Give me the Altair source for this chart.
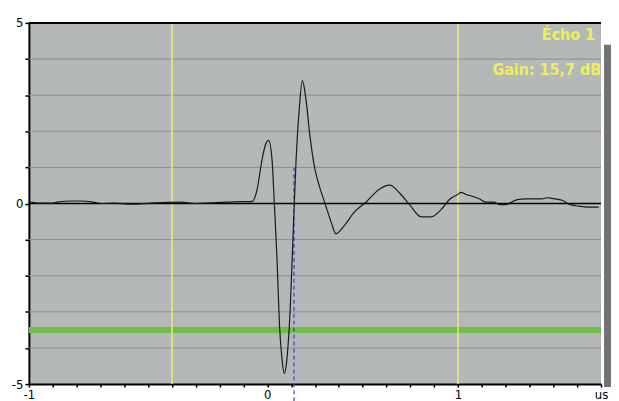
import altair as alt
import pandas as pd

# signal (time in us, amplitude)
t = [-1.242, -1.200, -1.132, -1.101, -1.028, -0.975, -0.913, -0.871, -0.803, -0.715,
     -0.610, -0.532, -0.454, -0.376, -0.297, -0.219, -0.141, -0.078, -0.054, -0.028,
     -0.010, 0.007, 0.025, 0.037, 0.051, 0.064, 0.077, 0.089, 0.103, 0.120,
     0.137, 0.151, 0.167, 0.184, 0.203, 0.224, 0.247, 0.268, 0.303, 0.337,
     0.360, 0.407, 0.459, 0.520, 0.572, 0.589, 0.642, 0.694, 0.746, 0.807,
     0.859, 0.911, 0.955, 0.998, 1.016, 1.042, 1.076, 1.111, 1.146, 1.189,
     1.215, 1.250, 1.285, 1.311, 1.355, 1.441, 1.467, 1.494, 1.546, 1.589,
     1.633, 1.676, 1.737]
amp = [0.04, 0.01, 0.01, 0.04, 0.07, 0.07, 0.04, 0.00, 0.01, -0.02,
       0.01, 0.03, 0.04, 0.00, 0.02, 0.04, 0.05, 0.06, 0.38, 1.20,
       1.62, 1.75, 1.20, 0.00, -1.54, -3.38, -4.30, -4.71, -4.30, -2.92,
       -0.63, 1.21, 2.58, 3.40, 2.87, 1.85, 1.03, 0.57, 0.00, -0.55,
       -0.84, -0.59, -0.22, 0.05, 0.33, 0.40, 0.51, 0.29, -0.03, -0.37,
       -0.37, -0.17, 0.11, 0.25, 0.31, 0.25, 0.20, 0.13, 0.04, 0.04,
       -0.03, -0.03, 0.05, 0.11, 0.13, 0.13, 0.16, 0.14, 0.09, -0.03,
       -0.07, -0.10, -0.10]

x_ticks = [-1.25, -1.125, -1.0, -0.875, -0.75, -0.625, -0.5, -0.375, -0.25, -0.125,
           0.0, 0.125, 0.25, 0.375, 0.5, 0.625, 0.75, 0.875, 1.0, 1.125,
           1.25, 1.375, 1.5, 1.625, 1.75]
y_ticks = [-5, -4, -3, -2, -1, 0, 1, 2, 3, 4, 5]
grid_y = [-4, -3, -2, -1, 1, 2, 3, 4]
cursor_x = [-0.5, 1.0]
gate_level = [-3.5]
marker_x = [0.14]
marker_top = [1.0]
marker_bottom = [-5.5]
echo_label = "Écho 1"
gain_label = "Gain: 15,7 dB"

sig = pd.DataFrame({"t": t, "a": amp})

xs = alt.Scale(domain=[-1.25, 1.75], nice=False, zero=False)
ys = alt.Scale(domain=[-5, 5], nice=False, zero=False)

W, H = 575, 363
FONT = "DejaVu Sans Condensed"

xaxis = alt.Axis(values=x_ticks, title=None, grid=False,
                 labelExpr="datum.value == -1.25 ? '-1' : datum.value == 0 ? '0' : datum.value == 1 ? '1' : datum.value == 1.75 ? 'us' : ''",
                 domainColor="black", domainWidth=2, tickColor="black", tickSize=3, tickWidth=1.5,
                 labelFont=FONT, labelFontSize=13, labelColor="black", labelPadding=1,
                 labelOverlap=False, labelFlush=False)
yaxis = alt.Axis(values=y_ticks, title=None, grid=False,
                 labelExpr="datum.value == 5 ? '5' : datum.value == 0 ? '0' : datum.value == -5 ? '-5' : ''",
                 domainColor="black", domainWidth=2, tickColor="black", tickSize=4, tickWidth=1.5,
                 labelFont=FONT, labelFontSize=13, labelColor="black", labelPadding=2,
                 labelOverlap=False, labelFlush=False)

one = pd.DataFrame({"k": [0]})

gridl = alt.Chart(pd.DataFrame({"y": grid_y})).mark_rule(color="#8b8d8e", strokeWidth=1).encode(
    y=alt.Y("y:Q", scale=ys, axis=yaxis))

shadow = alt.Chart(one).mark_rect(color="#727272", clip=False).encode(
    x=alt.value(W + 3), x2=alt.value(W + 10), y=alt.value(22), y2=alt.value(H + 3))

base_line = alt.Chart(sig).mark_line(color="#1a1a1a", strokeWidth=1.2, interpolate="monotone").encode(
    x=alt.X("t:Q", scale=xs, axis=xaxis),
    y=alt.Y("a:Q", scale=ys, axis=yaxis),
)

green = alt.Chart(pd.DataFrame({"y": gate_level})).mark_rule(color="#6fbf46", strokeWidth=6).encode(
    y=alt.Y("y:Q", scale=ys, axis=yaxis))

yellow = alt.Chart(pd.DataFrame({"x": cursor_x})).mark_rule(color="#ecec6e", strokeWidth=1.5).encode(
    x=alt.X("x:Q", scale=xs, axis=xaxis))

zero = alt.Chart(pd.DataFrame({"y": [0]})).mark_rule(color="black", strokeWidth=1.3).encode(
    y=alt.Y("y:Q", scale=ys, axis=yaxis))

top = alt.Chart(pd.DataFrame({"y": [5]})).mark_rule(color="black", strokeWidth=2).encode(
    y=alt.Y("y:Q", scale=ys, axis=yaxis))

marker = alt.Chart(pd.DataFrame({"x": marker_x, "y": marker_top, "y2": marker_bottom})).mark_rule(
    color="#3a3ad6", strokeWidth=1.2, strokeDash=[4, 3], clip=False).encode(
    x=alt.X("x:Q", scale=xs, axis=xaxis), y=alt.Y("y:Q", scale=ys, axis=yaxis), y2="y2:Q")

echo = alt.Chart(pd.DataFrame({"s": [echo_label]})).mark_text(
    font=FONT, fontSize=16, fontWeight="bold", color="#eeee5c", align="right", baseline="alphabetic").encode(
    text="s:N", x=alt.value(W - 6), y=alt.value(17))
gain = alt.Chart(pd.DataFrame({"s": [gain_label]})).mark_text(
    font=FONT, fontSize=16, fontWeight="bold", color="#eeee5c", align="right", baseline="alphabetic").encode(
    text="s:N", x=alt.value(W), y=alt.value(52))

chart = alt.layer(gridl, shadow, green, yellow, zero, marker, base_line, top, echo, gain).properties(
    width=W, height=H,
    autosize=alt.AutoSizeParams(type="none"),
    padding={"left": 21, "top": 14, "right": 10, "bottom": 20},
).configure(background="white", view=alt.ViewConfig(fill="#b5b8b9", stroke=None))

chart.save("out.html", embed_options={"renderer": "svg", "actions": False})
